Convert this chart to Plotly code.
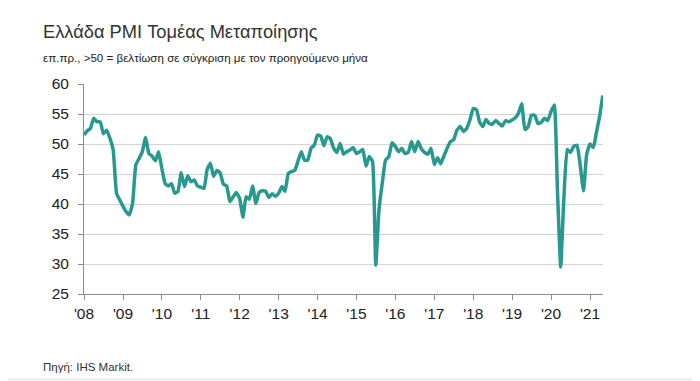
import plotly.graph_objects as go

# Monthly values, Jan 2008 - May 2021
pmi_2008 = [51.5, 52.2, 52.6, 54.3, 53.7, 53.7, 51.7, 52.3, 50.9, 49.0, 41.8, 40.7]
pmi_2009 = [39.6, 38.7, 38.2, 40.1, 46.5, 47.6, 48.7, 51.1, 48.4, 48.0, 47.2, 48.7]
pmi_2010 = [45.9, 43.4, 43.0, 43.4, 41.8, 42.1, 45.2, 42.9, 44.7, 43.7, 44.0, 43.0]
pmi_2011 = [42.8, 42.6, 45.7, 46.8, 44.6, 45.6, 45.2, 43.3, 43.0, 40.4, 41.2, 41.9]
pmi_2012 = [40.9, 37.8, 41.2, 40.8, 43.0, 40.1, 41.9, 42.2, 42.1, 41.1, 41.7, 41.3]
pmi_2013 = [41.8, 42.9, 42.1, 45.1, 45.4, 45.6, 47.1, 48.7, 47.3, 47.3, 49.3, 49.8]
pmi_2014 = [51.5, 51.3, 49.7, 51.2, 50.9, 49.3, 48.6, 50.1, 48.3, 48.7, 49.0, 49.4]
pmi_2015 = [48.4, 48.7, 49.1, 46.3, 47.9, 47.1, 29.8, 39.1, 43.6, 47.3, 47.9, 50.2]
pmi_2016 = [49.6, 48.7, 49.3, 48.4, 48.6, 50.4, 48.7, 50.4, 49.2, 48.6, 48.3, 49.3]
pmi_2017 = [46.6, 47.7, 46.7, 48.0, 49.3, 50.4, 50.7, 52.3, 52.9, 52.1, 52.6, 54.0]
pmi_2018 = [55.9, 55.7, 53.7, 52.9, 54.1, 53.4, 53.3, 53.9, 53.4, 53.0, 53.9, 53.7]
pmi_2019 = [54.0, 54.4, 55.1, 56.7, 52.4, 52.9, 54.8, 54.8, 53.4, 53.6, 54.3, 53.9]
pmi_2020 = [55.4, 56.5, 42.5, 29.5, 41.1, 49.1, 48.6, 49.6, 49.8, 46.5, 42.2, 48.3]
pmi_2021 = [50.0, 49.4, 51.8, 54.6, 58.1]

years = list(range(2008, 2022))
tick_labels = ["'08", "'09", "'10", "'11", "'12", "'13", "'14", "'15", "'16",
               "'17", "'18", "'19", "'20", "'21"]
y_ticks = [25, 30, 35, 40, 45, 50, 55, 60]

series = [pmi_2008, pmi_2009, pmi_2010, pmi_2011, pmi_2012, pmi_2013, pmi_2014,
          pmi_2015, pmi_2016, pmi_2017, pmi_2018, pmi_2019, pmi_2020, pmi_2021]
dates, values = [], []
for yr, vals in zip(years, series):
    for m, v in enumerate(vals):
        dates.append(f"{yr}-{m+1:02d}-01")
        values.append(v)

fig = go.Figure(go.Scatter(
    x=dates, y=values, mode="lines",
    line=dict(color="#27998F", width=3.5, shape="spline", smoothing=0.4),
    hoverinfo="skip",
))

font_main = "Liberation Sans, Arial, sans-serif"
fig.update_layout(
    width=700, height=381,
    margin=dict(l=76, r=105, t=76, b=95),
    paper_bgcolor="white", plot_bgcolor="white",
    showlegend=False,
    font=dict(family=font_main, color="#222222", size=14),
    xaxis=dict(
        type="date",
        range=["2008-01-01", "2021-05-03"],
        tickvals=[f"{y}-01-01" for y in years],
        ticktext=tick_labels,
        showgrid=False, zeroline=False,
        showline=True, linecolor="#8c8c8c", linewidth=1,
        ticks="outside", ticklen=5, tickcolor="#8c8c8c",
        tickfont=dict(size=15.5, family=font_main, color="#222222"),
        fixedrange=True,
    ),
    yaxis=dict(
        range=[25, 60],
        tickvals=y_ticks,
        showgrid=True, gridcolor="#d4d4d4", gridwidth=1,
        zeroline=False,
        showline=True, linecolor="#8c8c8c", linewidth=1,
        ticks="outside", ticklen=5, tickcolor="#8c8c8c",
        ticklabelstandoff=6,
        tickfont=dict(size=15.5, family=font_main, color="#222222"),
        fixedrange=True,
    ),
    shapes=[
        dict(type="rect", xref="paper", yref="paper",
             x0=-0.2, x1=1.3, y0=-0.4, y1=-0.43,
             fillcolor="#efefef", line=dict(width=0), layer="below"),
    ],
    annotations=[
        dict(text="Ελλάδα PMI Τομέας Μεταποίησης", xref="paper", yref="paper",
             x=-0.083, y=1.25, xanchor="left", yanchor="middle", showarrow=False,
             font=dict(size=18.3, family=font_main, color="#333333")),
        dict(text="επ.πρ., >50 = βελτίωση σε σύγκριση με τον προηγούμενο μήνα",
             xref="paper", yref="paper",
             x=-0.083, y=1.125, xanchor="left", yanchor="middle", showarrow=False,
             font=dict(size=11.6, family=font_main, color="#222222")),
        dict(text="Πηγή: IHS Markit.", xref="paper", yref="paper",
             x=-0.083, y=-0.348, xanchor="left", yanchor="middle", showarrow=False,
             font=dict(size=11.5, family=font_main, color="#333333")),
    ],
)

fig.write_html("out.html")
